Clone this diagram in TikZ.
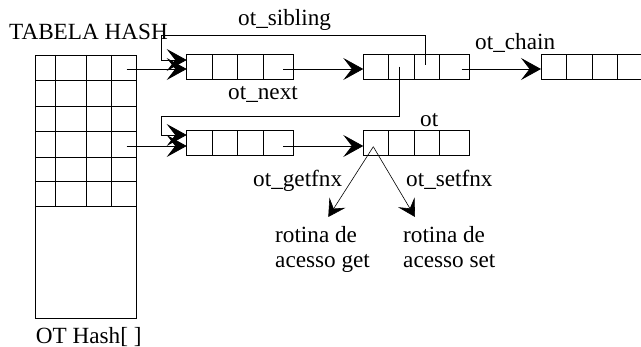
\documentclass[tikz,border=0pt]{standalone}
\usepackage{fontspec}
\setmainfont{Liberation Serif}
\usetikzlibrary{arrows.meta,calc}

% one record of four fields: name, x of the left edge, y of the middle
\newcommand\otrecord[3]{%
  \node[cell, minimum width=25.5pt] (#1-1) at (#2,#3) {};
  \node[cell, minimum width=25.5pt] (#1-2) at (#1-1.east) {};
  \node[cell, minimum width=25.5pt] (#1-3) at (#1-2.east) {};
  \node[cell, minimum width=30pt]   (#1-4) at (#1-3.east) {};}

\begin{document}
\begin{tikzpicture}[x=1pt,y=-1pt,
  lbl/.style={inner sep=0pt, anchor=base west, font=\fontsize{23.2}{26}\selectfont},
  cell/.style={draw, line width=0.9pt, minimum height=25pt, inner sep=0pt, outer sep=0pt, anchor=west},
  ptr/.style={line width=0.8pt, -{Stealth[length=20pt,width=22pt,inset=8.5pt]}},
  fnx/.style={line width=0.6pt, -{Stealth[length=17pt,width=19pt,inset=7pt]}},
  grid/.style={line width=0.9pt}]
\useasboundingbox (0,0) rectangle (641,347);

% hash table
\node[draw, line width=0.9pt, minimum width=101pt, minimum height=263pt,
      inner sep=0pt, outer sep=0pt, anchor=north west] (hash) at (35.7,55) {};
\foreach \gx in {55,86,111} \draw[grid] (\gx,55) -- (\gx,206);
\foreach \gy in {80,106,131.5,157,181.5,206} \draw[grid] (35.7,\gy) -- (136.7,\gy);

% records
\otrecord{ra}{186.7}{67}
\otrecord{rb}{363.3}{67}
\otrecord{rc}{541}{67}
\otrecord{rd}{186.7}{143}
\otrecord{re}{363.3}{143}

% pointer origins
\coordinate (h1) at (126.7,69);
\coordinate (h4) at (126.7,146);
\coordinate (pa) at (283.3,69);
\coordinate (pb) at (461.7,69);
\coordinate (pd) at (283.3,146);
\coordinate (sib) at (425,65);
\coordinate (sibturn) at (161.7,35);
\coordinate (nxt) at (399.3,66.7);
\coordinate (nxtturn) at (161.7,116.7);
\coordinate (fn) at (373.3,146.7);
\coordinate (getend) at (328.3,217);
\coordinate (setend) at (415,217);

% links
\draw[ptr] (h1) -- (h1 -| ra-1.west);
\draw[ptr] (h4) -- (h4 -| rd-1.west);
\draw[ptr] (pa) -- (pa -| rb-1.west);
\draw[ptr] (pb) -- (pb -| rc-1.west);
\draw[ptr] (pd) -- (pd -| re-1.west);
\draw[ptr] (sib) |- (sibturn) |- ($(ra-1.west)+(0,-7)$);
\draw[ptr] (nxt) |- (nxtturn) |- ($(rd-1.west)+(0,-8)$);
\draw[fnx] (fn) -- (getend);
\draw[fnx] (fn) -- (setend);

% labels
\node[lbl] (tabela) at (9,40) {TABELA HASH};
\node[lbl] (otsib) at (238,26) {ot\_sibling};
\node[lbl] (otchain) at (475,50) {ot\_chain};
\node[lbl] (otnext) at (228,100) {ot\_next};
\node[lbl] (ot) at (420,127) {ot};
\node[lbl] (getfnx) at (253,187) {ot\_getfnx};
\node[lbl] (setfnx) at (406,187) {ot\_setfnx};
\node[lbl] (get1) at (275,243) {rotina de};
\node[lbl] (get2) at (275,268) {acesso get};
\node[lbl] (set1) at (403,243) {rotina de};
\node[lbl] (set2) at (403,268) {acesso set};
\node[lbl] (othash) at (35.7,343.5) {OT Hash[ ]};
\end{tikzpicture}
\end{document}
